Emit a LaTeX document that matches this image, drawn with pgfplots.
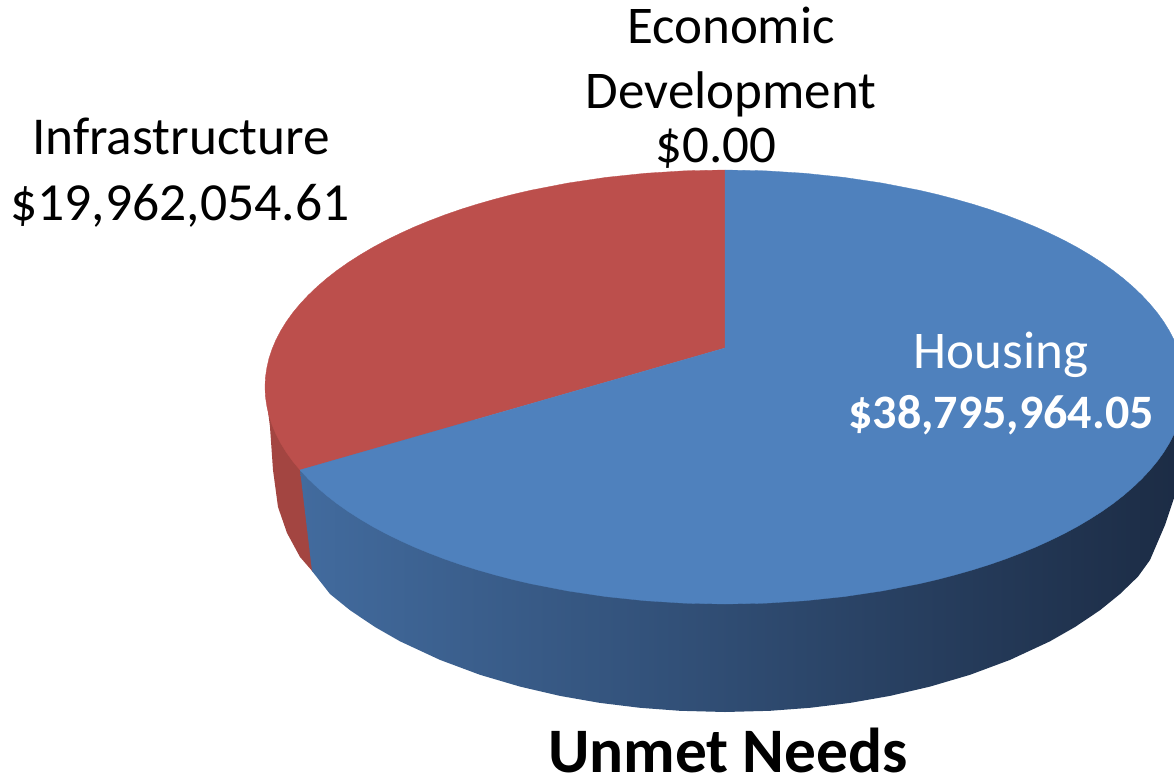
\documentclass[border=0pt]{standalone}
\usepackage{fontspec}
\setmainfont{Carlito}
\usepackage{pgfplots}
\pgfplotsset{compat=1.18}
\definecolor{topblue}{HTML}{4F81BD}
\definecolor{topred}{HTML}{BC4F4C}
\definecolor{sidered}{HTML}{A34541}
\definecolor{sA}{HTML}{426B9E}
\definecolor{sM}{HTML}{2E4A70}
\definecolor{sB}{HTML}{1C2C45}
\newcommand\lab[4]{\node[anchor=base,inner sep=0pt,text=#4] at (axis cs:#1,#2) {#3};}
\begin{document}
\begin{tikzpicture}
\useasboundingbox (0,0) rectangle (1174pt,778pt);
\begin{axis}[
  at={(0,0)},anchor=south west,
  scale only axis,width=1174pt,height=778pt,
  xmin=0,xmax=1174,ymin=0,ymax=778,y dir=reverse,
  hide axis,clip mode=individual]
% red side
\addplot[fill=sidered,draw=none] coordinates {(265,387)(270,427)(273,470)(278,507)(287,533)(300,557)(313,572)(304,470)(400,387)} --cycle;
% blue side
\addplot[draw=none,left color=sA,middle color=sM,right color=sB] coordinates {
 (300,470)(330,420)(1174,420)(1174,498)(1165,525)(1150,560)(1138,576.6)(1120,594)(1100,610.2)(1075,627)(1050,641.3)
 (1010,659.9)(970,674.8)(930,686.6)(890,695.9)(850,702.9)(810,707.8)(770,710.8)(725,712)
 (680,710.8)(640,707.8)(600,702.9)(560,695.9)(520,686.6)(480,674.8)(440,659.9)(400,641.3)
 (375,627)(350,610.2)(330,594)(312,571)
} --cycle;
% top face
\addplot[fill=topred,draw=topred,line width=.3pt] coordinates {
 (725,348)(725,170)(684.9,170.8)(645.1,173.3)(605.9,177.4)(567.7,183.1)(530.6,190.3)(512.6,194.5)(495,199.1)
 (477.8,204)(461.2,209.2)(445,214.8)(429.3,220.8)(414.2,227)(399.7,233.6)(385.8,240.4)(372.6,247.5)(360.1,254.9)
 (348.2,262.5)(337,270.4)(326.6,278.5)(317,286.8)(308.1,295.3)(300,304)
 (292.7,312.8)(286.3,321.7)(280.7,330.8)(275.9,340)(272,349.3)(268.9,358.7)(266.8,368.1)(265.4,377.5)(265,387)
 (265.4,396.5)(266.8,405.9)(268.9,415.3)(272,424.7)(275.9,434)(280.7,443.2)(286.3,452.3)(292.7,461.2)(300,470)
} --cycle;
\addplot[fill=topblue,draw=topblue,line width=.3pt] coordinates {
 (725,348)(725,170)(765.1,170.8)(804.9,173.3)(844.1,177.4)(882.3,183.1)(919.4,190.3)(937.4,194.5)(955,199.1)
 (972.2,204)(988.8,209.2)(1005,214.8)(1020.7,220.8)(1035.8,227)(1050.3,233.6)(1064.2,240.4)(1077.4,247.5)(1089.9,254.9)
 (1101.8,262.5)(1113,270.4)(1123.4,278.5)(1133,286.8)(1141.9,295.3)(1150,304)
 (1157.3,312.8)(1163.7,321.7)(1169.3,330.8)(1174.1,340)(1178,349.3)(1183.2,368.1)(1185,387)(1183.2,405.9)(1178,424.7)(1174.1,434)(1169.3,443.2)(1163.7,452.3)
 (1157.3,461.2)(1150,470)(1141.9,478.7)(1133,487.2)(1123.4,495.5)(1113,503.6)(1101.8,511.5)(1089.9,519.1)(1077.4,526.5)(1064.2,533.6)(1050.3,540.4)(1035.8,547)(1020.7,553.2)
 (1005,559.2)(988.8,564.8)(972.2,570)(955,574.9)(937.4,579.5)(919.4,583.7)(882.3,590.9)(844.1,596.6)(804.9,600.7)(765.1,603.2)(725,604)
 (684.9,603.2)(645.1,600.7)(605.9,596.6)(567.7,590.9)(530.6,583.7)(512.6,579.5)(495,574.9)(477.8,570)(461.2,564.8)(445,559.2)(429.3,553.2)
 (414.2,547)(399.7,540.4)(385.8,533.6)(372.6,526.5)(360.1,519.1)(348.2,511.5)(337,503.6)(326.6,495.5)(317,487.2)(308.1,478.7)(300,470)
} --cycle;
% labels
\lab{731}{44}{\fontsize{53}{60}\selectfont Economic}{black}
\lab{731}{109}{\fontsize{53}{60}\selectfont Development}{black}
\lab{716}{163}{\fontsize{53}{60}\selectfont \$0.00}{black}
\lab{181}{155}{\fontsize{53.3}{60}\selectfont Infrastructure}{black}
\lab{180}{220}{\fontsize{53.6}{60}\selectfont \$19,962,054.61}{black}
\lab{1001}{368}{\fontsize{53}{60}\selectfont Housing}{white}
\lab{1001}{428}{\fontsize{48}{60}\selectfont\bfseries \$38,795,964.05}{white}
\lab{728}{772}{\fontsize{63.4}{70}\selectfont\bfseries Unmet Needs}{black}
\end{axis}
\end{tikzpicture}
\end{document}
